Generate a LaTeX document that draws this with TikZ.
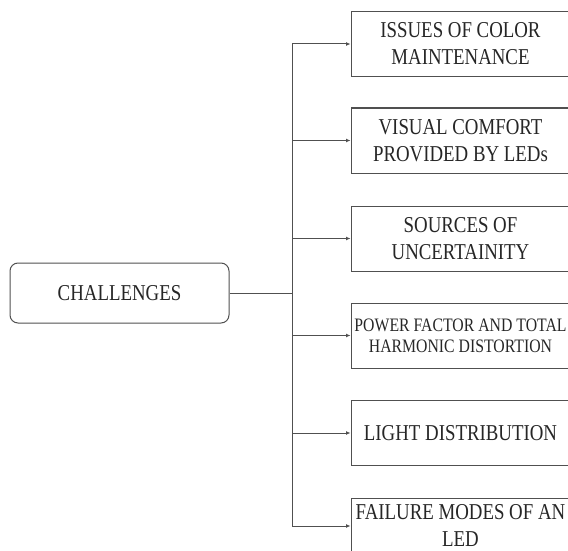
\documentclass[tikz,border=0pt]{standalone}
\usepackage{fontspec}
\setmainfont{Liberation Serif}
\newfontfamily\boxfont{Liberation Serif}[FakeStretch=0.83]
\usetikzlibrary{arrows.meta}

\definecolor{linegray}{HTML}{505050}
\definecolor{textgray}{HTML}{262626}

\tikzset{
  topic/.style={draw=linegray,line width=1pt,rounded corners=8pt,minimum width=219pt,minimum height=60pt,
    text=textgray,font=\boxfont\fontsize{22.7}{27}\selectfont},
  item/.style={draw=linegray,line width=1pt,minimum width=219pt,minimum height=65pt,align=center,
    text=textgray,font=\boxfont\fontsize{22.7}{27}\selectfont},
  small/.style={font=\boxfont\fontsize{19}{21}\selectfont},
  branch/.style={draw=linegray,line width=1pt,-{Latex[length=4.5pt,width=4pt]}},
  link/.style={draw=linegray,line width=1pt}
}

\begin{document}
\begin{tikzpicture}[x=1pt,y=-1pt]
  \useasboundingbox (0,0) rectangle (568,551);

  \node[topic] (chal) at (119.5,293) {CHALLENGES};
  \coordinate (j) at (292,293);

  \node[item] (b1) at (460.5,44) {ISSUES OF COLOR\\MAINTENANCE};
  \node[item] (b2) at (460.5,140.5) {VISUAL COMFORT\\PROVIDED BY LEDs};
  \node[item] (b3) at (460.5,238.5) {SOURCES OF\\UNCERTAINITY};
  \node[item,small] (b4) at (460.5,335.5) {POWER FACTOR AND TOTAL\\HARMONIC DISTORTION};
  \node[item] (b5) at (460.5,433) {LIGHT DISTRIBUTION};
  \node[item,minimum height=56pt] (b6) at (460.5,526) {FAILURE MODES OF AN\\LED};

  \draw[link] (chal.east) -- (j);
  \draw[link] (b1.west -| j) -- (b6.west -| j);
  \foreach \i in {1,...,6}
    \draw[branch] (b\i.west -| j) -- (b\i.west);
\end{tikzpicture}
\end{document}
